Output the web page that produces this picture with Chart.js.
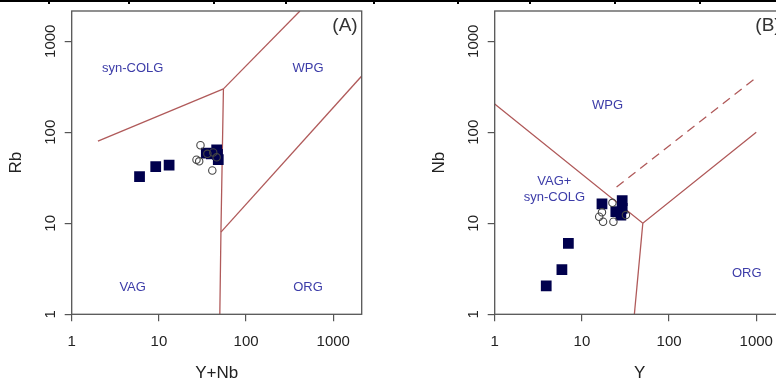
<!DOCTYPE html>
<html lang="en">
<head>
  <meta charset="UTF-8" />
  <title>Rb vs Y+Nb and Nb vs Y discrimination diagrams</title>
  <script src="https://cdn.jsdelivr.net/npm/chart.js"></script>
  <style>
    html, body { margin: 0; padding: 0; background: #fff; width: 776px; height: 385px; overflow: hidden; }
    .panel { position: absolute; top: 0; width: 380px; height: 385px; }
    .rule { position: absolute; top: 0; left: 0; width: 776px; height: 2px; background: #000; }
    .rule i { position: absolute; top: 0; width: 2px; height: 4px; background: #000; }
  </style>
</head>
<body>
  <div class="rule">
    <i style="left:48px"></i><i style="left:128px"></i><i style="left:213px"></i>
    <i style="left:285px"></i><i style="left:373px"></i><i style="left:457px"></i>
    <i style="left:529px"></i><i style="left:614px"></i><i style="left:699px"></i>
  </div>
  <div class="panel" style="left:0px"><canvas id="chartA" width="380" height="385"></canvas></div>
  <div class="panel" style="left:423px"><canvas id="chartB" width="380" height="385"></canvas></div>

  <script>
    // axis ticks shared by both diagrams
    const tickValues = [1, 10, 100, 1000];
    const tickLabels = ['1', '10', '100', '1000'];

    // (A) Rb vs Y+Nb
    const aSquaresX = [6, 9.2, 13.1, 35, 40, 46, 47, 48];
    const aSquaresY = [32.5, 42, 43.5, 59, 58, 64, 57, 50];
    const aCirclesX = [27, 29, 30, 41, 46, 36, 42];
    const aCirclesY = [50, 48, 72, 38, 53, 58, 60];
    const aSynColVag = [[2, 80], [55, 300]];
    const aSynColWpg = [[55, 300], [415, 2150]];
    const aVagSplit = [[55, 300], [51.5, 8], [50, 1]];
    const aWpgOrg = [[51.5, 8], [2120, 415]];
    const aFields = [
      { text: 'syn-COLG', x: 5, y: 497 },
      { text: 'WPG', x: 513, y: 497 },
      { text: 'VAG', x: 5, y: 1.95 },
      { text: 'ORG', x: 513, y: 1.95 }
    ];

    // (B) Nb vs Y
    const bSquaresX = [3.9, 5.9, 7, 17, 29, 24.5, 28, 29];
    const bSquaresY = [2.05, 3.1, 6, 16.3, 17.7, 13.4, 12.3, 14.6];
    const bCirclesX = [22.4, 17, 15.8, 17.5, 23, 32];
    const bCirclesY = [16.8, 13.2, 11.8, 10.4, 10.4, 12.3];
    const bWpgBoundary = [[1, 205], [50, 10], [1000, 100]];
    const bVagOrg = [[50, 10], [40, 1]];
    const bDashed = [[25, 25], [1000, 400]];
    const bFields = [
      { text: 'WPG', x: 19.7, y: 196 },
      { text: 'VAG+', x: 4.84, y: 28.6 },
      { text: 'syn-COLG', x: 4.84, y: 19.3 },
      { text: 'ORG', x: 779, y: 2.82 }
    ];

    const FONT = '"Liberation Sans", Arial, sans-serif';
    Chart.defaults.font.family = FONT;

    const toPts = (xs, ys) => xs.map((x, i) => ({ x, y: ys[i] }));
    const seg = pts => pts.map(p => ({ x: p[0], y: p[1] }));

    function boundary(pts, dashed) {
      return {
        data: seg(pts), showLine: true, pointRadius: 0, fill: false,
        borderColor: '#b05a5a', borderWidth: 1.3, borderDash: dashed ? [9, 6] : []
      };
    }

    const framePlugin = {
      id: 'frame',
      afterDatasetsDraw(chart, args, opts) {
        const { ctx, chartArea: a, scales: { x, y } } = chart;
        ctx.save();
        ctx.strokeStyle = '#555';
        ctx.lineWidth = 1.3;
        ctx.strokeRect(a.left, a.top, a.right - a.left, a.bottom - a.top);
        ctx.fillStyle = '#3c3ca8';
        ctx.font = '13px ' + FONT;
        ctx.textAlign = 'center';
        ctx.textBaseline = 'middle';
        opts.fields.forEach(f => ctx.fillText(f.text, x.getPixelForValue(f.x), y.getPixelForValue(f.y)));
        ctx.fillStyle = '#333';
        ctx.font = '19px ' + FONT;
        ctx.textAlign = 'right';
        ctx.fillText(opts.tag, a.right - 4, a.top + 15);
        ctx.restore();
      }
    };

    function makeChart(id, squares, circles, lines, xTitle, yTitle, tag, fields) {
      const axisBase = {
        type: 'logarithmic',
        min: 1,
        afterBuildTicks: s => { s.ticks = tickValues.map(v => ({ value: v })); },
        grid: { drawOnChartArea: false, tickLength: 7, color: '#555', lineWidth: 1.2 },
        border: { display: false }
      };
      return new Chart(document.getElementById(id), {
        type: 'scatter',
        data: {
          datasets: [
            {
              data: circles, pointStyle: 'circle', pointRadius: 3.7,
              backgroundColor: 'rgba(0,0,0,0)', borderColor: '#444', borderWidth: 1.1
            },
            {
              data: squares, pointStyle: 'rect', pointRadius: 7.6,
              backgroundColor: '#00004d', borderColor: '#00004d', borderWidth: 0
            },
            ...lines
          ]
        },
        options: {
          responsive: false,
          animation: false,
          layout: { padding: { top: 11, right: 18.3, bottom: 0, left: 0 } },
          plugins: { legend: { display: false }, tooltip: { enabled: false }, frame: { fields, tag } },
          scales: {
            x: {
              ...axisBase,
              max: 2120,
              afterFit: s => { s.height = 70.7; },
              ticks: {
                callback: (v, i) => tickLabels[i], autoSkip: false, maxRotation: 0,
                font: { size: 15 }, color: '#222', padding: 12
              },
              title: { display: true, text: xTitle, font: { size: 17 }, color: '#222', padding: { top: 0, bottom: 1.5 } }
            },
            y: {
              ...axisBase,
              max: 2150,
              afterFit: s => { s.width = 71.7; },
              ticks: {
                callback: (v, i) => tickLabels[i], autoSkip: false, minRotation: 90, maxRotation: 90,
                crossAlign: 'center', font: { size: 15 }, color: '#222', padding: -2.5
              },
              title: { display: true, text: yTitle, font: { size: 17 }, color: '#222', padding: { top: 6.5, bottom: 0 } }
            }
          }
        },
        plugins: [framePlugin]
      });
    }

    makeChart('chartA',
      toPts(aSquaresX, aSquaresY), toPts(aCirclesX, aCirclesY),
      [boundary(aSynColVag), boundary(aSynColWpg), boundary(aVagSplit), boundary(aWpgOrg)],
      'Y+Nb', 'Rb', '(A)', aFields);

    makeChart('chartB',
      toPts(bSquaresX, bSquaresY), toPts(bCirclesX, bCirclesY),
      [boundary(bWpgBoundary), boundary(bVagOrg), boundary(bDashed, true)],
      'Y', 'Nb', '(B)', bFields);
  </script>
</body>
</html>
